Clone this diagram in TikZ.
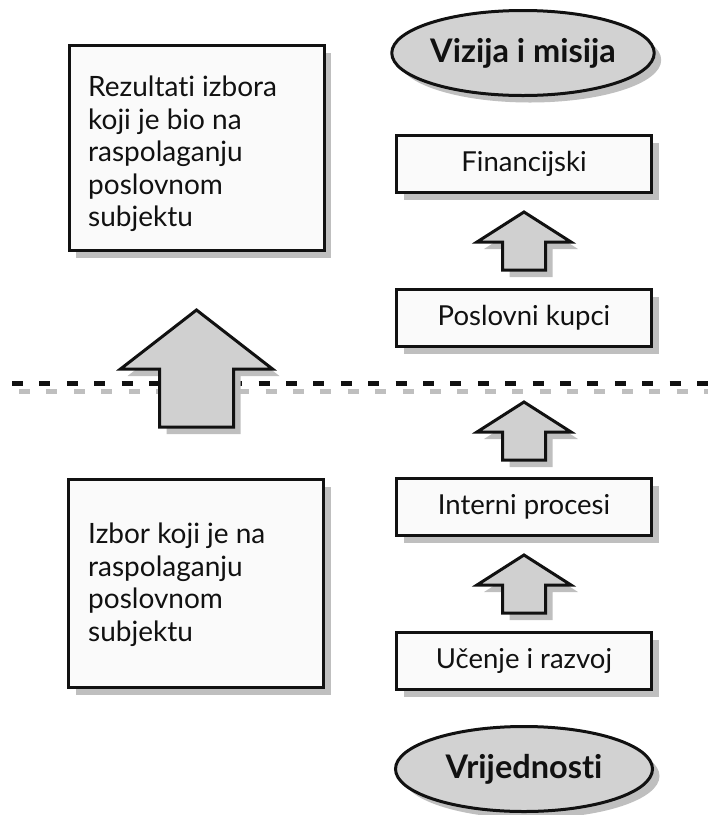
\documentclass[tikz,border=0pt]{standalone}
\usepackage{fontspec}
\setmainfont{Lato}[Ligatures={NoCommon}]
\usetikzlibrary{shapes.geometric,shadows,calc}
\definecolor{boxfill}{HTML}{FAFAFA}
\definecolor{ellfill}{HTML}{D2D2D2}
\definecolor{arrfill}{HTML}{D0D0D0}
\definecolor{shadowgray}{HTML}{BFBFBF}
\definecolor{ink}{HTML}{111111}
\tikzset{
  myshadow/.style={drop shadow={shadow xshift=7pt, shadow yshift=-7pt, fill=shadowgray, opacity=1}},
  boxst/.style={draw=ink, line width=3pt, fill=boxfill, minimum width=255pt, minimum height=57pt,
    inner sep=0pt, myshadow, font=\fontsize{27.5}{33}\selectfont, text=ink},
  bigboxst/.style={draw=ink, line width=3pt, fill=boxfill, minimum width=255pt, inner sep=0pt, myshadow},
  ellipsest/.style={ellipse, draw=ink, line width=3pt, fill=ellfill, minimum width=257pt, minimum height=85pt,
    inner sep=0pt, myshadow, font=\fontsize{32.5}{36}\selectfont\bfseries, text=ink},
  boxtext/.style={anchor=north west, inner sep=0pt, align=left, text=ink, font=\fontsize{28}{32.5}\selectfont},
  arrowst/.style={draw=ink, line width=3pt, fill=arrfill, line join=miter, myshadow},
  dashblack/.style={draw=ink, line width=5pt, dash pattern=on 11pt off 16.4pt},
  dashgray/.style={draw=shadowgray, line width=5pt, dash pattern=on 11pt off 16.4pt},
  pics/uparrow/.style n args={4}{code={
    \path[arrowst] (0,0) -- (#1,#2) -- (#3,#2) -- (#3,#2+#4) -- (-#3,#2+#4) -- (-#3,#2) -- (-#1,#2) -- cycle;
  }}
}
\begin{document}
\begin{tikzpicture}[x=1pt,y=-1pt]
\useasboundingbox (0,0) rectangle (708,815);
\clip (0,0) rectangle (708,815);
% left boxes
\node[bigboxst, minimum height=205pt] (rez) at (196.5,148) {};
\node[boxtext] (reztext) at (88,76) {Rezultati izbora\\koji je bio na\\raspolaganju\\poslovnom\\subjektu};
\node[bigboxst, minimum height=208pt] (izb) at (196,583.5) {};
\node[boxtext] (izbtext) at (88,523) {Izbor koji je na\\raspolaganju\\poslovnom\\subjektu};
% right column
\node[ellipsest] (viz) at (523,53) {Vizija i misija};
\node[boxst] (fin) at (524,164) {Financijski};
\node[boxst] (pk) at (524,318) {Poslovni kupci};
\node[boxst] (ip) at (524,507) {Interni procesi};
\node[boxst] (ur) at (524,661) {Učenje i razvoj};
\node[ellipsest] (vr) at (524,769) {Vrijednosti};
% dashed divider
\coordinate (dl) at (12,383.5);
\coordinate (dr) at (712,383.5);
\draw[dashgray] ($(dl)+(7,7.5)$) -- ($(dr)+(7,7.5)$);
\draw[dashblack] (dl) -- (dr);
% block arrows
\coordinate (t1) at ($(fin.south)+(0,18)$);
\pic at (t1) {uparrow={47}{30}{21.5}{28}};
\coordinate (t2) at ($(ip.north)+(0,-75)$);
\pic at (t2) {uparrow={47}{30}{21.5}{28}};
\coordinate (t3) at ($(ip.south)+(0,18)$);
\pic at (t3) {uparrow={47}{30}{21.5}{28}};
\coordinate (tb) at ($(rez.south)+(0,58)$);
\pic at (tb) {uparrow={76}{59}{37}{58}};
\end{tikzpicture}
\end{document}
